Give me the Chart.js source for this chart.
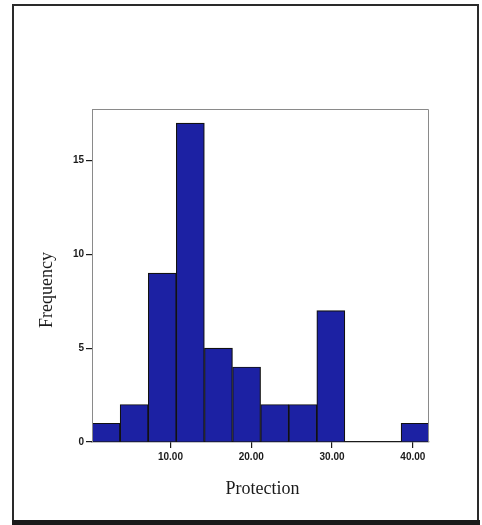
<!DOCTYPE html>
<html>
<head>
<meta charset="utf-8">
<script src="https://cdn.jsdelivr.net/npm/chart.js@4.4.1/dist/chart.umd.min.js"></script>
<style>
  html, body { margin: 0; padding: 0; background: #ffffff; }
  #wrap { width: 482px; height: 525px; }
</style>
</head>
<body>
<div id="wrap"><canvas id="hist" width="482" height="525"></canvas></div>
<script>
// Histogram of Protection scores: bin centres and counts per bin
const binCenters = [2.03, 5.51, 8.99, 12.46, 15.94, 19.42, 22.90, 26.37, 29.85, 33.33, 36.81, 40.28];
const frequencies = [1, 2, 9, 17, 5, 4, 2, 2, 7, 0, 0, 1];
const xTickValues = [10, 20, 30, 40];
const yTickValues = [0, 5, 10, 15];
const xTitle = 'Protection';
const yTitle = 'Frequency';

const points = binCenters.map((c, i) => ({ x: c, y: frequencies[i] }));

// Outer frame, plot box and axis titles
const framePlugin = {
  id: 'frame',
  beforeDraw(chart) {
    const ctx = chart.ctx;
    ctx.save();
    ctx.fillStyle = '#ffffff';
    ctx.fillRect(0, 0, chart.width, chart.height);
    ctx.strokeStyle = '#2a2a2a';
    ctx.lineWidth = 2;
    ctx.strokeRect(13, 5, 465, 516);
    ctx.fillStyle = '#1a1a1a';
    ctx.fillRect(12, 520, 468, 5);
    ctx.restore();
  },
  afterDraw(chart) {
    const ctx = chart.ctx;
    const a = chart.chartArea;
    ctx.save();
    ctx.strokeStyle = '#8a8a8a';
    ctx.lineWidth = 1;
    ctx.beginPath();
    ctx.moveTo(a.left + 0.5, a.bottom);
    ctx.lineTo(a.left + 0.5, a.top + 0.5);
    ctx.lineTo(a.right - 0.5, a.top + 0.5);
    ctx.lineTo(a.right - 0.5, a.bottom);
    ctx.stroke();
    ctx.fillStyle = '#1a1a1a';
    ctx.font = '18px "Liberation Serif", "Times New Roman", serif';
    ctx.textAlign = 'center';
    ctx.textBaseline = 'middle';
    ctx.fillText(xTitle, (a.left + a.right) / 2 + 2, 489);
    ctx.translate(47, 290);
    ctx.rotate(-Math.PI / 2);
    ctx.fillText(yTitle, 0, 0);
    ctx.restore();
  }
};

const tickFont = { family: '"Liberation Sans", Arial, sans-serif', size: 10, weight: 'bold' };

new Chart(document.getElementById('hist'), {
  type: 'bar',
  data: {
    datasets: [{
      data: points,
      backgroundColor: 'rgb(28, 33, 163)',
      borderColor: '#111111',
      borderWidth: 1.2,
      barPercentage: 1,
      categoryPercentage: 1
    }]
  },
  options: {
    responsive: false,
    animation: false,
    devicePixelRatio: 1,
    layout: { padding: { top: 109, right: 53, left: 0, bottom: 0 } },
    plugins: { legend: { display: false }, tooltip: { enabled: false } },
    scales: {
      x: {
        type: 'linear',
        offset: false,
        min: 0.29,
        max: 42.0,
        afterFit(scale) { scale.height = 83; },
        afterBuildTicks(scale) { scale.ticks = xTickValues.map(v => ({ value: v })); },
        ticks: {
          callback: v => v.toFixed(2),
          font: tickFont,
          color: '#1a1a1a',
          padding: 3,
          maxRotation: 0
        },
        grid: { display: true, offset: false, drawOnChartArea: false, tickLength: 6, color: '#1a1a1a', lineWidth: 1.2 },
        border: { display: true, color: '#1a1a1a', width: 1.2 }
      },
      y: {
        min: 0,
        max: 17.75,
        afterFit(scale) { scale.width = 92; },
        afterBuildTicks(scale) { scale.ticks = yTickValues.map(v => ({ value: v })); },
        ticks: {
          font: tickFont,
          color: '#1a1a1a',
          padding: 2
        },
        grid: { display: true, offset: false, drawOnChartArea: false, tickLength: 6, color: '#1a1a1a', lineWidth: 1.2 },
        border: { display: true, color: '#8a8a8a', width: 1 }
      }
    }
  },
  plugins: [framePlugin]
});
</script>
</body>
</html>
